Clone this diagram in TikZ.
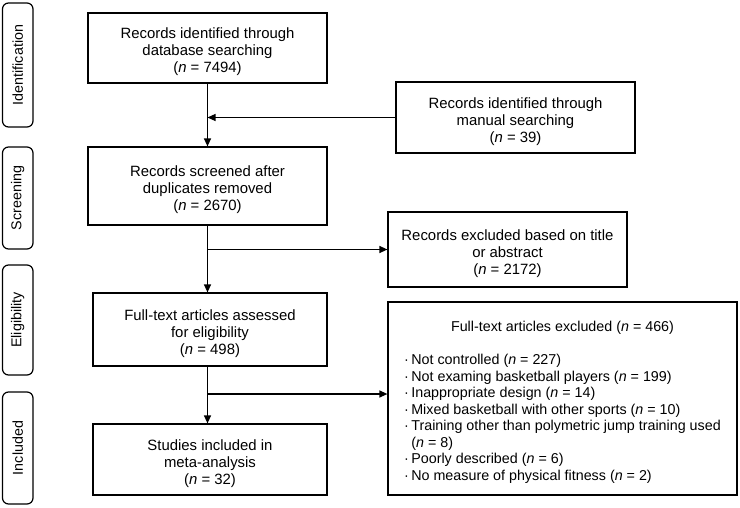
\documentclass[tikz,border=0pt]{standalone}
\usepackage{fontspec}
\setmainfont{Liberation Sans}
\usetikzlibrary{arrows.meta,shapes,calc,positioning}
\newcommand{\boxtop}{\rule{0pt}{19pt}}
\tikzstyle{box}   =[rectangle, draw, line width=1.2pt, align=center,
                    inner sep=2pt, font=\fontsize{14.9}{17}\selectfont]
\tikzstyle{phase} =[rectangle, draw, rounded corners=6pt, rotate=90,
                    line width=1.2pt, inner sep=0pt, minimum height=30.5pt,
                    font=\fontsize{14.3}{17}\selectfont]
\tikzstyle{edge}  =[-{Stealth[length=8pt, width=7pt, inset=0pt]},
                    line width=1.2pt]

\begin{document}
\begin{tikzpicture}[x=1pt, y=-1pt]
            \useasboundingbox (0,0) rectangle (740,507);
            % stages
            \node (ident) [phase, minimum width=124pt] at (17.75,65) {Identification};
            \node (scr)   [phase, minimum width=102pt] at (17.75,198) {Screening};
            \node (eli)   [phase, minimum width=110pt] at (17.75,320) {Eligibility};
            \node (inc)   [phase, minimum width=112pt] at (17.75,448) {Included};
            % main column
            \node (dbase)  [box, minimum width=239pt, minimum height=70pt] at (207.5,48)
                {\boxtop Records identified through\\database searching\\(\textit{n} = 7494)};
            \node (screen) [box, minimum width=239pt, minimum height=78pt] at (207.5,186)
                {\boxtop Records screened after\\duplicates removed\\(\textit{n} = 2670)};
            \node (elig)   [box, minimum width=234pt, minimum height=73pt] at (210,329.5)
                {\boxtop Full-text articles assessed\\for eligibility\\(\textit{n} = 498)};
            \node (incl)   [box, minimum width=234pt, minimum height=71pt] at (210,459.5)
                {\boxtop Studies included in\\meta-analysis\\(\textit{n} = 32)};
            % side boxes
            \node (manual) [box, minimum width=239pt, minimum height=71pt] at (515.5,117.5)
                {\boxtop Records identified through\\manual searching\\(\textit{n} = 39)};
            \node (excl)   [box, minimum width=239pt, minimum height=75pt] at (507.5,249.5)
                {\boxtop Records excluded based on title\\or abstract\\(\textit{n} = 2172)};
            \node (fulltext) [box, minimum width=349pt, minimum height=193pt,
                font=\fontsize{14.3}{16.5}\selectfont] at (562.5,398.5)
                {\begin{tabular}{@{}l@{\,}l@{}}
                 \multicolumn{2}{c}{\rule{0pt}{19.5pt}Full-text articles excluded (\textit{n} = 466)}\\[16.5pt]
                 · & Not controlled (\textit{n} = 227)\\
                 · & Not examing basketball players (\textit{n} = 199)\\
                 · & Inappropriate design (\textit{n} = 14)\\
                 · & Mixed basketball with other sports (\textit{n} = 10)\\
                 · & Training other than polymetric jump training used\\
                   & (\textit{n} = 8)\\
                 · & Poorly described (\textit{n} = 6)\\
                 · & No measure of physical fitness (\textit{n} = 2)
                 \end{tabular}};
            % connectors
            \coordinate (j3) at (207.5,394);
            \draw[edge] (dbase) -- (screen);
            \draw[edge] (manual.west) -- (manual.west -| dbase.south);
            \draw[edge] (screen.south) -- (screen.south |- elig.north);
            \draw[edge] (excl.west -| screen.south) -- (excl.west);
            \draw[edge] (elig.south -| screen.south) -- (incl.north -| screen.south);
            \draw[edge] (j3) -- (j3 -| fulltext.west);
        \end{tikzpicture}
\end{document}
